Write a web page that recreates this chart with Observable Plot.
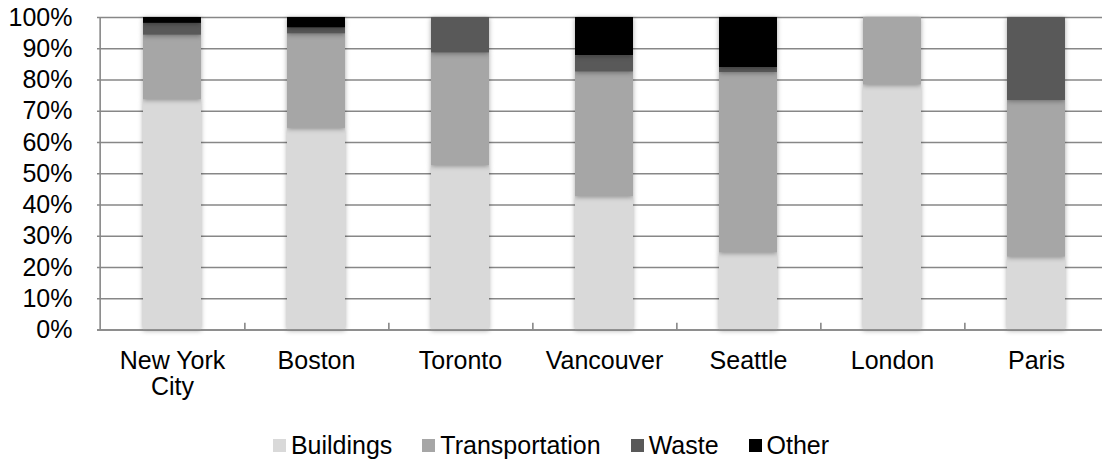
<!DOCTYPE html>
<html>
<head>
<meta charset="utf-8">
<script src="https://cdn.jsdelivr.net/npm/d3@7"></script>
<script src="https://cdn.jsdelivr.net/npm/@observablehq/plot@0.6"></script>
<style>
  html, body { margin: 0; padding: 0; background: #fff; }
  body { width: 1102px; height: 461px; position: relative; overflow: hidden; font-family: "Liberation Sans", Arial, sans-serif; }
  #legend { position: absolute; left: 0; width: 1102px; top: 430px; display: flex; justify-content: center; align-items: center; font-size: 25px; line-height: 30px; color: #000; white-space: nowrap; }
  .item { display: flex; align-items: center; margin: 0 15px; }
  .sw { width: 13px; height: 13px; margin-right: 5px; }
</style>
</head>
<body>
<div id="chart"></div>
<div id="legend"></div>
<script>
const cities = ["New York City", "Boston", "Toronto", "Vancouver", "Seattle", "London", "Paris"];
const categories = ["Buildings", "Transportation", "Waste", "Other"];
const buildings      = [73.7, 64.5, 52.6, 42.7, 24.7, 78.4, 23.3];
const transportation = [20.6, 30.2, 36.0, 39.8, 57.7, 21.6, 50.1];
const waste          = [3.8, 1.9, 11.4, 5.3, 1.6, 0, 26.6];
const other          = [1.9, 3.4, 0, 12.2, 16.0, 0, 0];
const yTicks = [0, 10, 20, 30, 40, 50, 60, 70, 80, 90, 100];
const colors = ["#d9d9d9", "#a6a6a6", "#595959", "#000000"];

const series = [buildings, transportation, waste, other];
const data = [];
cities.forEach((city, i) => {
  categories.forEach((cat, j) => {
    data.push({city, category: cat, value: series[j][i]});
  });
});

const W = 1102, H = 418;
const mL = 97, mR = -8, mT = 17, mB = 88.5;
const step = (W - mR - mL) / cities.length;
const gridColor = "#878787";

const chart = Plot.plot({
  width: W, height: H,
  marginLeft: mL, marginRight: mR, marginTop: mT, marginBottom: mB,
  style: {fontFamily: "'Liberation Sans', Arial, sans-serif", background: "#fff", color: "#000", overflow: "hidden"},
  x: {domain: cities, axis: null, paddingInner: 0.6, paddingOuter: 0.3},
  y: {domain: [0, 100], axis: null},
  color: {domain: categories, range: colors},
  marks: [
    Plot.ruleY(yTicks, {y: d => d, stroke: gridColor, strokeWidth: 1.6}),
    Plot.barY(data, {x: "city", y: "value", fill: "category"}),
    Plot.ruleX([cities[0]], {x: d => d, dx: -step / 2, y1: 0, y2: 100, stroke: gridColor, strokeWidth: 1.6}),
    Plot.ruleX(cities, {x: d => d, dx: step / 2, y1: 0, y2: 2.2, stroke: gridColor, strokeWidth: 1.6}),
    Plot.ruleY([0], {stroke: gridColor, strokeWidth: 1.6}),
    Plot.text(yTicks, {y: d => d, frameAnchor: "left", textAnchor: "end", dx: -25, text: d => d + "%", fontSize: 25, fill: "#000"}),
    Plot.text(cities, {x: d => d, frameAnchor: "bottom", lineAnchor: "top", dy: 21, lineHeight: 1.04,
      text: d => d === "New York City" ? "New York\nCity" : d, fontSize: 25, fill: "#000"})
  ]
});
d3.select(chart).selectAll("g[aria-label='bar'] rect").style("filter", "drop-shadow(0px 1px 2.5px rgba(0,0,0,0.35))");
document.getElementById("chart").appendChild(chart);

const legend = d3.select("#legend");
categories.forEach((c, i) => {
  const it = legend.append("div").attr("class", "item");
  it.append("div").attr("class", "sw").style("background", colors[i]);
  it.append("span").text(c);
});
</script>
</body>
</html>
